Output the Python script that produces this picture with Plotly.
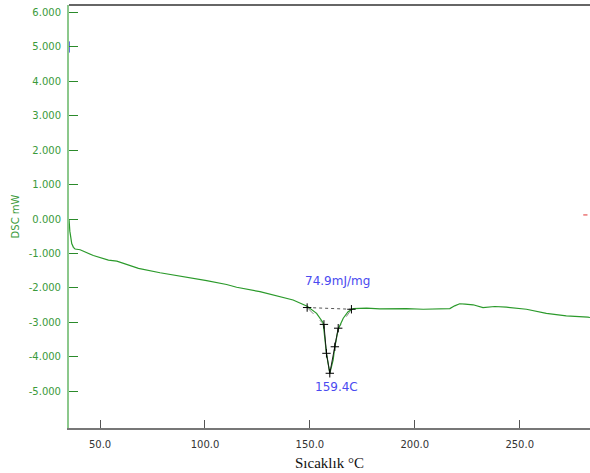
import plotly.graph_objects as go

# DSC curve
temp = [35.2, 35.3, 35.6, 36.5, 37.3, 38.1, 40.5, 46.8, 51.6, 54.0, 58.0, 62.7, 68.3,
        78.6, 89.7, 100.8, 110.3, 115.1, 126.2, 135.7, 142.0, 148.7, 153.2, 156.3,
        157.1, 157.9, 159.5, 161.1, 161.9, 163.5, 165.9, 168.2, 170.6, 177.0, 183.3,
        191.3, 196.0, 204.0, 210.0, 216.7, 219.0, 221.4, 224.0, 227.8, 232.5, 235.0,
        238.1, 243.7, 253.2, 262.7, 272.2, 282.5, 283.5]
dsc = [0.0, -0.15, -0.35, -0.71, -0.82, -0.87, -0.89, -1.06, -1.15, -1.19, -1.22, -1.31, -1.43,
       -1.56, -1.67, -1.79, -1.90, -1.98, -2.11, -2.25, -2.35, -2.53, -2.74, -3.01,
       -3.42, -3.90, -4.48, -4.09, -3.71, -3.20, -2.88, -2.69, -2.60, -2.59, -2.61,
       -2.60, -2.60, -2.62, -2.61, -2.60, -2.52, -2.46, -2.47, -2.49, -2.57, -2.55,
       -2.54, -2.56, -2.62, -2.74, -2.81, -2.85, -2.86]

# Peak analysis markers
peak_x = [148.7, 156.7, 157.9, 159.5, 161.9, 163.5, 169.8]
peak_y = [-2.57, -3.06, -3.90, -4.48, -3.71, -3.17, -2.62]

enthalpy_label = "74.9mJ/mg"
peak_label = "159.4C"

y_ticks = [6, 5, 4, 3, 2, 1, 0, -1, -2, -3, -4, -5]
x_ticks = [50, 100, 150, 200, 250]

fig = go.Figure()

# baseline (dotted)
fig.add_trace(go.Scatter(x=[peak_x[0], peak_x[-1]], y=[peak_y[0], peak_y[-1]],
                         mode="lines", line=dict(color="#555555", width=1, dash="dot"),
                         hoverinfo="skip", showlegend=False))
# tangent helper lines (dashed grey)
fig.add_trace(go.Scatter(x=[peak_x[0], peak_x[1]], y=[peak_y[0], peak_y[1]],
                         mode="lines", line=dict(color="#888888", width=1, dash="dash"),
                         hoverinfo="skip", showlegend=False))
fig.add_trace(go.Scatter(x=[peak_x[-1], peak_x[-2], peak_x[-3]], y=[peak_y[-1], peak_y[-2], peak_y[-3]],
                         mode="lines", line=dict(color="#888888", width=1, dash="dash"),
                         hoverinfo="skip", showlegend=False))

# main DSC curve
fig.add_trace(go.Scatter(x=temp, y=dsc, mode="lines",
                         line=dict(color="#2b9a2b", width=1.2),
                         showlegend=False))

# dark segment over the peak
fig.add_trace(go.Scatter(x=peak_x[1:-1], y=peak_y[1:-1], mode="lines",
                         line=dict(color="#1a1a1a", width=1),
                         hoverinfo="skip", showlegend=False))
# + markers
fig.add_trace(go.Scatter(x=peak_x, y=peak_y, mode="markers",
                         marker=dict(symbol="cross-thin", size=6, line=dict(color="black", width=1)),
                         showlegend=False))

# small stray marks
fig.add_trace(go.Scatter(x=[281.3], y=[0.12], mode="markers",
                         marker=dict(symbol="line-ew", size=3, line=dict(color="#e03030", width=1)),
                         hoverinfo="skip", showlegend=False))
fig.add_trace(go.Scatter(x=[35.3], y=[5.0], mode="markers",
                         marker=dict(symbol="line-ns", size=8, line=dict(color="#3030e0", width=1)),
                         hoverinfo="skip", showlegend=False))

fig.add_annotation(x=(peak_x[0] + peak_x[-1]) / 2 + 4, y=-1.8, text=enthalpy_label,
                   showarrow=False, font=dict(family="DejaVu Sans", size=12, color="#4a4af0"))
fig.add_annotation(x=peak_x[3] + 3.4, y=-4.88, text=peak_label,
                   showarrow=False, font=dict(family="DejaVu Sans", size=12, color="#4a4af0"))

fig.update_layout(
    width=590, height=473,
    margin=dict(l=69, r=0, t=5, b=45, autoexpand=False),
    paper_bgcolor="white", plot_bgcolor="white",
    xaxis=dict(range=[35.2, 283.5], tickvals=x_ticks,
               ticktext=[f"{v:.1f}" for v in x_ticks],
               ticks="inside", ticklen=8, tickcolor="#555555", tickwidth=1,
               showline=True, linecolor="#777777", linewidth=2,
               showgrid=False, zeroline=False, automargin=False,
               ticklabelstandoff=6,
               tickfont=dict(family="DejaVu Sans", size=10, color="#333333"),
               title=dict(text="Sıcaklık °C", standoff=8,
                          font=dict(family="Liberation Serif", size=15, color="#111111"))),
    yaxis=dict(range=[-6.07, 6.22], tickvals=y_ticks,
               ticktext=[f"{v:.3f}" for v in y_ticks],
               ticks="inside", ticklen=9, tickcolor="#2b8a2b", tickwidth=1,
               showline=True, linecolor="#8cc88c", linewidth=2,
               showgrid=False, zeroline=False, automargin=False,
               ticklabelstandoff=4,
               tickfont=dict(family="DejaVu Sans", size=10, color="#3a9a3a"),
               title=dict(text="DSC mW", standoff=7,
                          font=dict(family="DejaVu Sans", size=10, color="#3a9a3a"))),
)
# top border line
fig.add_shape(type="line", xref="paper", yref="paper", x0=0, x1=1, y0=1, y1=1,
              line=dict(color="#666666", width=2))

fig.write_html("out.html", config={"displayModeBar": False},
               post_script="document.body.style.margin='0';document.body.style.overflow='hidden';")
